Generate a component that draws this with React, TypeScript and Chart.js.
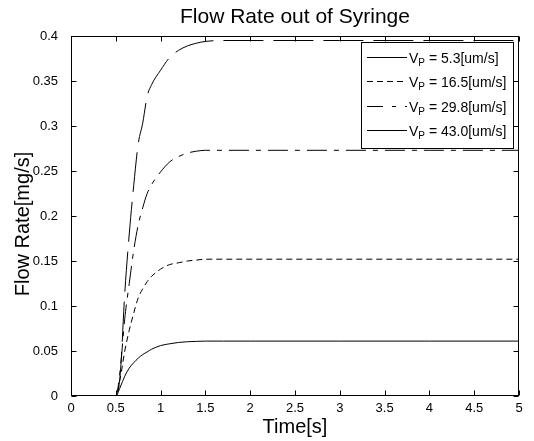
import { useEffect, useRef } from "react";
import { Chart, registerables } from "chart.js";

Chart.register(...registerables);

const FONT = '"Liberation Sans", Arial, Helvetica, sans-serif';

// time axis samples [s]
const times = [0, 0.5, 0.55, 0.6, 0.65, 0.7, 0.75, 0.8, 0.85, 0.9, 1.0, 1.1, 1.2, 1.3, 1.4, 1.5, 1.7, 2.0, 2.5, 3.0, 4.0, 5.0];

// flow rate [mg/s] for each plunger speed
const flow53 = [0, 0, 0.010, 0.022, 0.031, 0.037, 0.042, 0.046, 0.049, 0.052, 0.056, 0.058, 0.0595, 0.0603, 0.0607, 0.061, 0.061, 0.061, 0.061, 0.061, 0.061, 0.061];
const flow165 = [0, 0, 0.020, 0.050, 0.073, 0.092, 0.109, 0.119, 0.127, 0.133, 0.141, 0.146, 0.148, 0.150, 0.151, 0.152, 0.152, 0.152, 0.152, 0.152, 0.152, 0.152];
const flow298 = [0, 0, 0.030, 0.086, 0.125, 0.162, 0.190, 0.209, 0.225, 0.235, 0.249, 0.260, 0.266, 0.270, 0.272, 0.273, 0.273, 0.273, 0.273, 0.273, 0.273, 0.273];
const flow430 = [0, 0, 0.025, 0.114, 0.180, 0.234, 0.280, 0.303, 0.333, 0.346, 0.362, 0.376, 0.384, 0.389, 0.392, 0.394, 0.395, 0.395, 0.395, 0.395, 0.395, 0.395];

const speeds = ["5.3", "16.5", "29.8", "43.0"];
const seriesValues = [flow53, flow165, flow298, flow430];

const xTickLabels = ["0", "0.5", "1", "1.5", "2", "2.5", "3", "3.5", "4", "4.5", "5"];
const yTickLabels = ["0", "0.05", "0.1", "0.15", "0.2", "0.25", "0.3", "0.35", "0.4"];

const titleText = "Flow Rate out of Syringe";
const xTitle = "Time[s]";
const yTitle = "Flow Rate[mg/s]";

// line styles (plot) and legend sample styles
const plotDash: number[][] = [[], [6, 4], [20, 7, 5, 7], [40, 10]];
const legendDash: number[][] = [[], [6, 4], [16, 9, 4, 9], []];

const framePlugin = {
  id: "matlabFrame",
  afterDraw(chart: any) {
    const { ctx, chartArea: a, scales } = chart;
    const xs = scales.x;
    const ys = scales.y;
    ctx.save();
    ctx.strokeStyle = "#000";
    ctx.lineWidth = 1;
    ctx.setLineDash([]);
    const L = Math.round(a.left) + 0.5;
    const R = Math.round(a.right) - 0.5;
    const T = Math.round(a.top) + 0.5;
    const B = Math.round(a.bottom) - 0.5;
    ctx.strokeRect(L, T, R - L, B - T);
    ctx.beginPath();
    xs.ticks.forEach((t: any) => {
      const p = Math.round(xs.getPixelForValue(t.value)) + 0.5;
      ctx.moveTo(p, B);
      ctx.lineTo(p, B - 5);
      ctx.moveTo(p, T);
      ctx.lineTo(p, T + 5);
    });
    ys.ticks.forEach((t: any) => {
      const p = Math.round(ys.getPixelForValue(t.value)) + 0.5;
      ctx.moveTo(L, p);
      ctx.lineTo(L + 5, p);
      ctx.moveTo(R, p);
      ctx.lineTo(R - 5, p);
    });
    ctx.stroke();

    // titles
    ctx.fillStyle = "#000";
    ctx.textAlign = "center";
    ctx.textBaseline = "middle";
    ctx.font = `21px ${FONT}`;
    ctx.fillText(titleText, (a.left + a.right) / 2, 17);
    ctx.font = `20px ${FONT}`;
    ctx.fillText(xTitle, (a.left + a.right) / 2, 427);
    ctx.save();
    ctx.translate(23, (a.top + a.bottom) / 2 + 8);
    ctx.rotate(-Math.PI / 2);
    ctx.fillText(yTitle, 0, 0);
    ctx.restore();

    // legend
    const bx = 361, by = 42, bh = 106;
    const bw = Math.round(a.right) - 6 - bx;
    ctx.fillStyle = "#fff";
    ctx.fillRect(bx, by, bw, bh);
    ctx.strokeStyle = "#000";
    ctx.strokeRect(bx + 0.5, by + 0.5, bw, bh);
    chart.data.datasets.forEach((ds: any, i: number) => {
      const ry = Math.round(by + 15 + i * 24.3) + 0.5;
      ctx.setLineDash(legendDash[i]);
      ctx.beginPath();
      ctx.moveTo(bx + 6, ry);
      ctx.lineTo(bx + 46, ry);
      ctx.stroke();
      ctx.setLineDash([]);
      ctx.fillStyle = "#000";
      ctx.textAlign = "left";
      ctx.textBaseline = "alphabetic";
      let tx = bx + 48;
      const base = ry + 5;
      ctx.font = `14px ${FONT}`;
      ctx.fillText("V", tx, base);
      tx += ctx.measureText("V").width;
      ctx.font = `10px ${FONT}`;
      ctx.fillText("P", tx, base + 3.5);
      tx += ctx.measureText("P").width;
      ctx.font = `14px ${FONT}`;
      ctx.fillText(` = ${speeds[i]}[um/s]`, tx, base);
    });
    ctx.restore();
  },
};

export default function App() {
  const ref = useRef<HTMLCanvasElement>(null);
  useEffect(() => {
    const datasets = seriesValues.map((vals, i) => ({
      label: `V_P = ${speeds[i]}[um/s]`,
      data: times.map((t, j) => ({ x: t, y: vals[j] })),
      borderColor: "#000",
      borderWidth: 1,
      borderDash: plotDash[i],
      pointRadius: 0,
      fill: false,
      cubicInterpolationMode: "monotone" as const,
    }));
    const chart = new Chart(ref.current!, {
      type: "line",
      data: { datasets },
      options: {
        animation: false,
        responsive: true,
        maintainAspectRatio: false,
        layout: { padding: { top: 36, right: 15, bottom: 0, left: 0 } },
        plugins: { legend: { display: false }, tooltip: { enabled: false }, title: { display: false } },
        scales: {
          x: {
            type: "linear",
            min: 0,
            max: 5,
            afterFit: (s: any) => { s.height = 45; },
            grid: { display: false },
            border: { display: false },
            ticks: {
              stepSize: 0.5,
              padding: -3,
              color: "#000",
              font: { family: FONT, size: 13 },
              maxRotation: 0,
              autoSkip: false,
              callback: (_v: any, i: number) => xTickLabels[i],
            },
          },
          y: {
            type: "linear",
            min: 0,
            max: 0.4,
            afterFit: (s: any) => { s.width = 71; },
            grid: { display: false },
            border: { display: false },
            ticks: {
              stepSize: 0.05,
              padding: 5,
              color: "#000",
              font: { family: FONT, size: 13 },
              autoSkip: false,
              callback: (_v: any, i: number) => yTickLabels[i],
            },
          },
        },
      },
      plugins: [framePlugin],
    });
    return () => chart.destroy();
  }, []);
  return (
    <div style={{ position: "fixed", left: 0, top: 0, width: 534, height: 441, background: "#fff" }}>
      <canvas ref={ref} />
    </div>
  );
}
